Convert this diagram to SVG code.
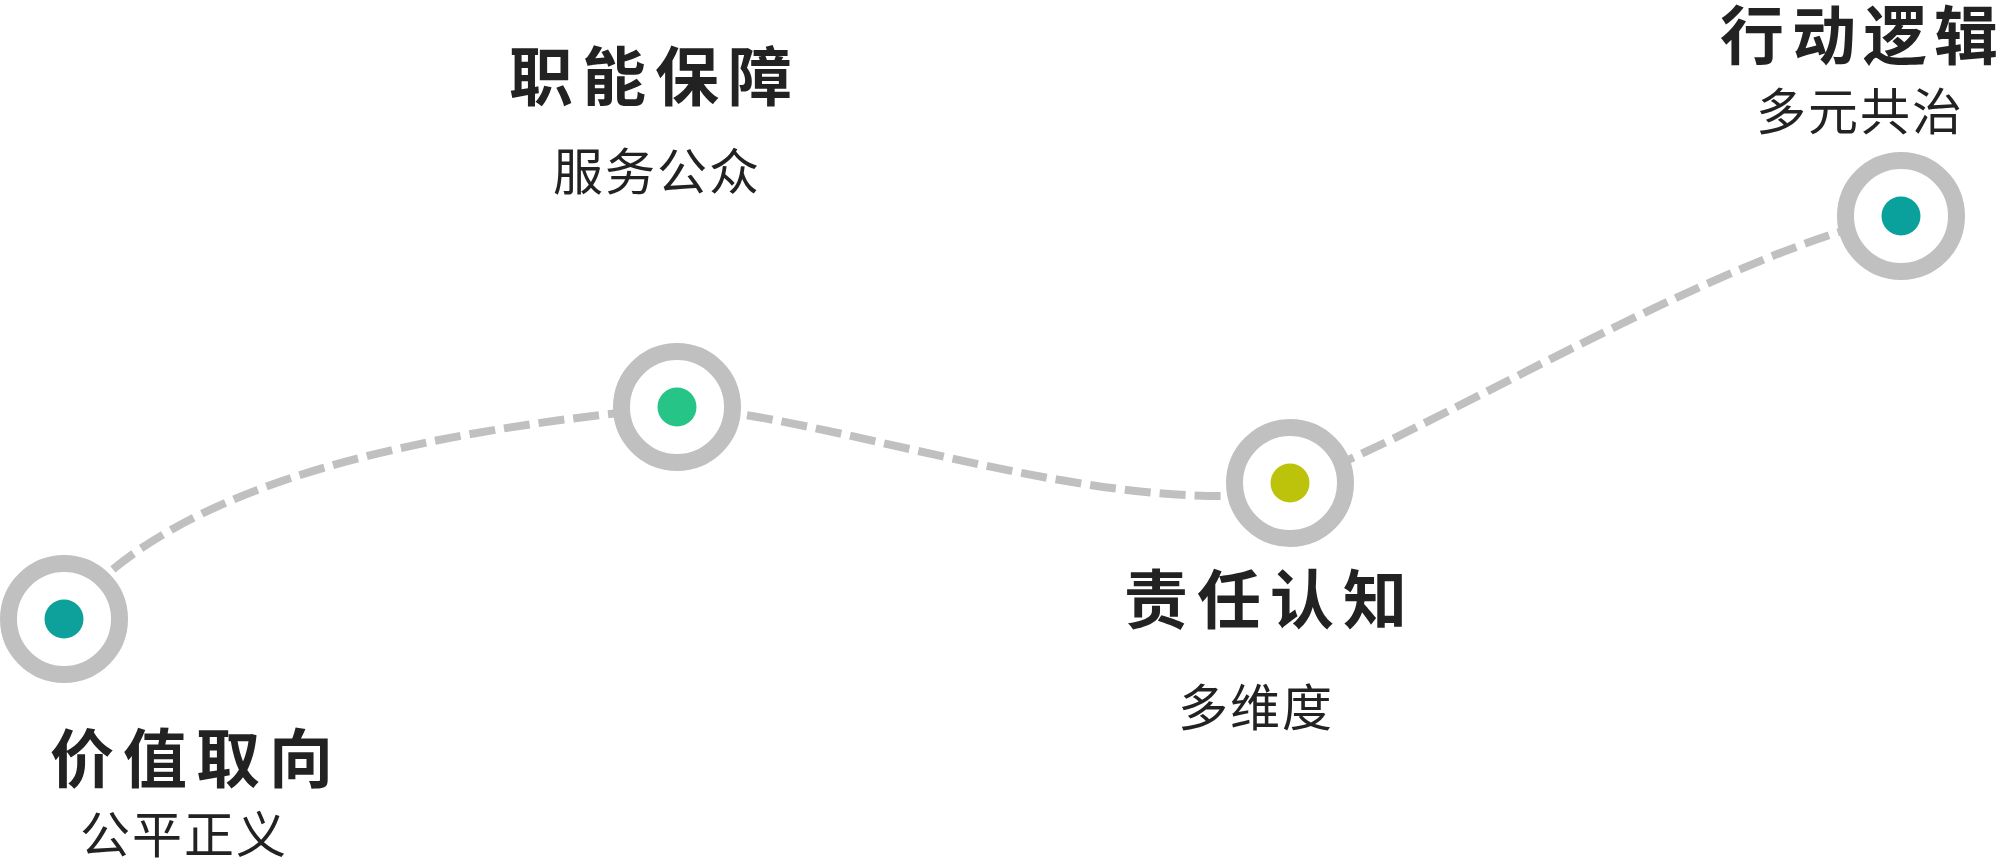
<svg xmlns="http://www.w3.org/2000/svg" width="2000" height="863" viewBox="0 0 2000 863">
  <style>
    .link { fill: none; stroke: #c0c0c0; stroke-width: 8; stroke-dasharray: 26 9; }
    .ring { fill: #ffffff; stroke: #c0c0c0; stroke-width: 17; }
    .title { font-family: "Noto Sans CJK SC", "Noto Sans", sans-serif; font-weight: 700; font-size: 64px; letter-spacing: 9px; fill: #222222; }
    .sub { font-family: "Noto Sans CJK SC", "Noto Sans", sans-serif; font-weight: 400; font-size: 50px; letter-spacing: 2px; fill: #222222; }
  </style>
  <rect width="2000" height="863" fill="#ffffff"/>
  <g id="connectors">
    <path class="link" d="M64,619 C145,515 320,440 677,407 C820,415 1045,498 1227,496 C1260,495 1280,488 1290,483 C1400,450 1720,250 1901,216"/>
  </g>
  <g id="node-1">
    <circle class="ring" cx="64" cy="619" r="55.5"/>
    <circle cx="64" cy="619" r="19.5" fill="#0ea09a"/>
    <text class="title" x="50" y="782">价值取向</text>
    <text class="sub" x="80" y="853">公平正义</text>
  </g>
  <g id="node-2">
    <circle class="ring" cx="677" cy="407" r="55.5"/>
    <circle cx="677" cy="407" r="19.5" fill="#26c487"/>
    <text class="title" x="509" y="100">职能保障</text>
    <text class="sub" x="553" y="190">服务公众</text>
  </g>
  <g id="node-3">
    <circle class="ring" cx="1290" cy="483" r="55.5"/>
    <circle cx="1290" cy="483" r="19.5" fill="#bdc30b"/>
    <text class="title" x="1124" y="623">责任认知</text>
    <text class="sub" x="1178" y="726">多维度</text>
  </g>
  <g id="node-4">
    <circle class="ring" cx="1901" cy="216" r="55.5"/>
    <circle cx="1901" cy="216" r="19.5" fill="#0aa19c"/>
    <text class="title" x="1720 1792 1863 1934" y="59" style="letter-spacing:0">行动逻辑</text>
    <text class="sub" x="1756" y="130">多元共治</text>
  </g>
</svg>
